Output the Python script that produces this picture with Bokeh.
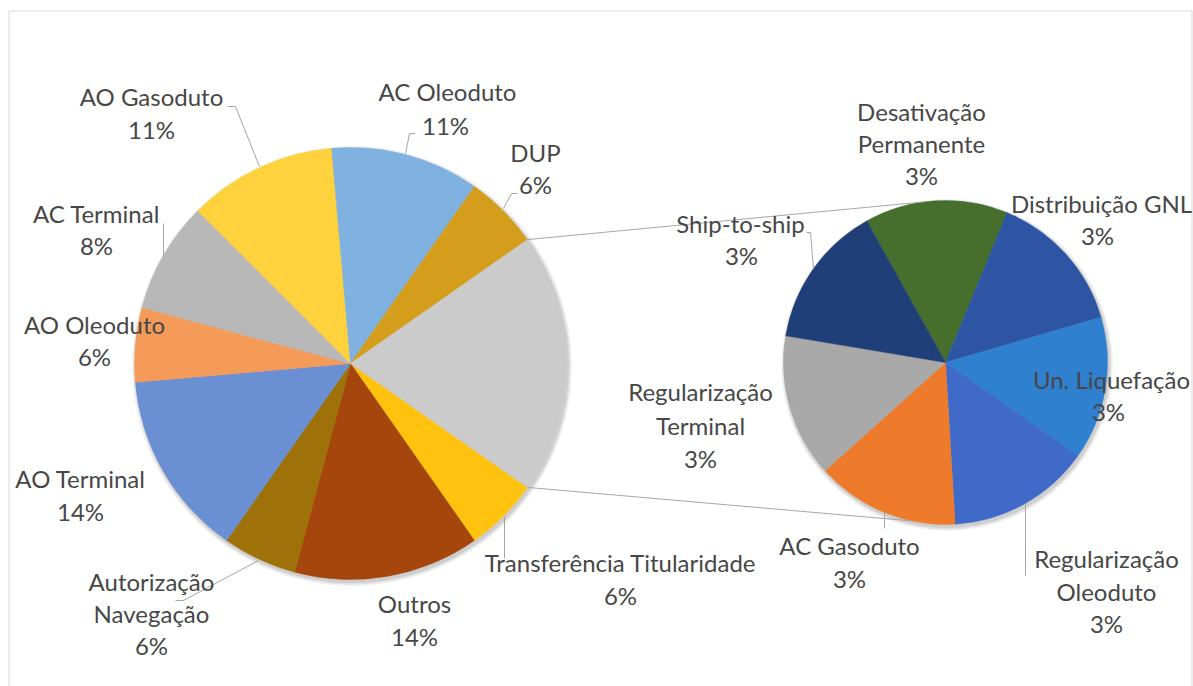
import math
from bokeh.plotting import figure
from bokeh.models import Range1d, ColumnDataSource
from bokeh.core.properties import value
from bokeh.embed import file_html
from bokeh.resources import INLINE

# ---------------- data ----------------
main_labels = ["Transferência Titularidade", "Outros", "Autorização Navegação", "AO Terminal",
               "AO Oleoduto", "AC Terminal", "AO Gasoduto", "AC Oleoduto", "DUP"]
main_counts = [2, 5, 2, 5, 2, 3, 4, 4, 2]
main_colors = ["#FFC20E", "#A5460C", "#9E7208", "#6A8FD3", "#F49B5A", "#B8B8B8",
               "#FDD23C", "#7FB1E1", "#D49E1C"]
other_color = "#CBCBCB"

sec_labels = ["Desativação Permanente", "Distribuição GNL", "Un. Liquefação", "Regularização Oleoduto",
              "AC Gasoduto", "Regularização Terminal", "Ship-to-ship"]
sec_counts = [1, 1, 1, 1, 1, 1, 1]
sec_colors = ["#466F2E", "#2E55A3", "#2F80CF", "#3F6AC9", "#EE7B2C", "#A9A9A9", "#203F78"]

# ---------------- layout ----------------
W, H = 1193, 686
PX0, PY0 = 0, 0
def X(px): return px - PX0
def Y(py): return (H + PY0) - py

total = sum(main_counts) + sum(sec_counts)
other = sum(sec_counts)

p = figure(width=W, height=H, output_backend="svg", toolbar_location=None,
           x_range=Range1d(0, W), y_range=Range1d(0, H), min_border=0)
p.axis.visible = False
p.grid.visible = False
p.outline_line_color = None
p.background_fill_color = "white"

# chart border
p.line([X(8.5), X(8.5)], [Y(700), Y(10.5)], line_color="#D9D9D9", line_width=1)
p.line([X(8.5), X(1191.5)], [Y(10.5), Y(10.5)], line_color="#D9D9D9", line_width=1)
p.line([X(1191.5), X(1191.5)], [Y(10.5), Y(700)], line_color="#D9D9D9", line_width=1)

# pie geometry
mcx, mcy, mr = X(350), Y(363), 216
scx, scy, sr = X(945), Y(362), 162

# shadows
for k, a in [(4, 0.05), (2.5, 0.07), (1, 0.08)]:
    p.circle(x=[mcx + 1.5], y=[mcy - 2.5], radius=mr + k, fill_color="black", fill_alpha=a, line_color=None)
    p.circle(x=[scx + 1.5], y=[scy - 2.5], radius=sr + k, fill_color="black", fill_alpha=a, line_color=None)

deg = 360.0 / total
other_half = other * deg / 2
starts, ends = [], []
a = -other_half
for c in main_counts:
    ends.append(math.radians(a))
    a -= c * deg
    starts.append(math.radians(a))
src = ColumnDataSource(dict(s=starts, e=ends, c=main_colors))
p.wedge(x=mcx, y=mcy, radius=mr, start_angle="s", end_angle="e", fill_color="c",
        line_color="c", line_width=0.5, source=src)
p.wedge(x=mcx, y=mcy, radius=mr, start_angle=math.radians(-other_half), end_angle=math.radians(other_half),
        fill_color=other_color, line_color=other_color, line_width=0.5)

sdeg = 360.0 / sum(sec_counts)
s_start = 119.1
ss, se = [], []
a = s_start
for c in sec_counts:
    se.append(math.radians(a))
    a -= c * sdeg
    ss.append(math.radians(a))
src2 = ColumnDataSource(dict(s=ss, e=se, c=sec_colors))
p.wedge(x=scx, y=scy, radius=sr, start_angle="s", end_angle="e", fill_color="c",
        line_color="c", line_width=0.5, source=src2)

# connector lines
lc = "#A6A6A6"
t1 = math.radians(other_half)
t2 = math.radians(-other_half)
p.line([mcx + mr * math.cos(t1), scx + sr * math.cos(math.radians(97))],
       [mcy + mr * math.sin(t1), scy + sr * math.sin(math.radians(97))], line_color=lc, line_width=1)
p.line([mcx + mr * math.cos(t2), scx + sr * math.cos(math.radians(-102))],
       [mcy + mr * math.sin(t2), scy + sr * math.sin(math.radians(-102))], line_color=lc, line_width=1)

# leader lines (page coords)
leaders = [
    [(415, 133), (409, 133), (405, 153)],
    [(517, 193), (511, 193), (503, 208)],
    [(227, 106), (235, 106), (259, 166)],
    [(163, 223), (163, 255)],
    [(175, 600), (183, 600), (258, 560)],
    [(504, 516), (504, 558)],
    [(806, 232), (810, 232), (813, 268)],
    [(884, 512), (884, 528)],
    [(1025, 504), (1025, 575)],
]
for pts in leaders:
    p.line([X(q[0]) for q in pts], [Y(q[1]) for q in pts], line_color=lc, line_width=1)

def pct(c):
    return f"{round(c / total * 100)}%"

label_lines = {
    "AC Oleoduto": (["AC Oleoduto"], (447, 93), (445, 127)),
    "DUP": (["DUP"], (535, 154), (535, 186)),
    "AO Gasoduto": (["AO Gasoduto"], (151, 98), (151, 131)),
    "AC Terminal": (["AC Terminal"], (96, 215), (96, 247)),
    "AO Oleoduto": (["AO Oleoduto"], (94, 326), (94, 358)),
    "AO Terminal": (["AO Terminal"], (80, 480), (80, 513)),
    "Autorização Navegação": (["Autorização", "Navegação"], (151, 583), (151, 647)),
    "Outros": (["Outros"], (414, 605), (414, 638)),
    "Transferência Titularidade": (["Transferência Titularidade"], (620, 564), (620, 597)),
    "Desativação Permanente": (["Desativação", "Permanente"], (921, 113), (921, 177)),
    "Distribuição GNL": (["Distribuição GNL"], (1101, 205), (1097, 237)),
    "Un. Liquefação": (["Un. Liquefação"], (1111, 381), (1108, 413)),
    "Regularização Oleoduto": (["Regularização", "Oleoduto"], (1106, 560), (1106, 625)),
    "AC Gasoduto": (["AC Gasoduto"], (849, 547), (849, 580)),
    "Regularização Terminal": (["Regularização", "Terminal"], (700, 393), (700, 460)),
    "Ship-to-ship": (["Ship-to-ship"], (740, 225), (741, 257)),
}
counts = dict(zip(main_labels, main_counts))
counts.update(dict(zip(sec_labels, sec_counts)))

dy = -2  # small upward nudge
tx, ty, tt = [], [], []
for name in main_labels + sec_labels:
    lines, (x0, y0), (xp, yp) = label_lines[name]
    n = len(lines)
    for i, ln in enumerate(lines):
        tx.append(X(x0))
        ty.append(Y(y0 + i * (yp - y0) / n + dy))
        tt.append(ln)
    tx.append(X(xp))
    ty.append(Y(yp + dy))
    tt.append(pct(counts[name]))

p.text(x=tx, y=ty, text=tt, text_font=value("Lato"), text_font_size="24px",
       text_color="#474747", text_align="center", text_baseline="middle")

open("out.html", "w").write(file_html(p, INLINE))
